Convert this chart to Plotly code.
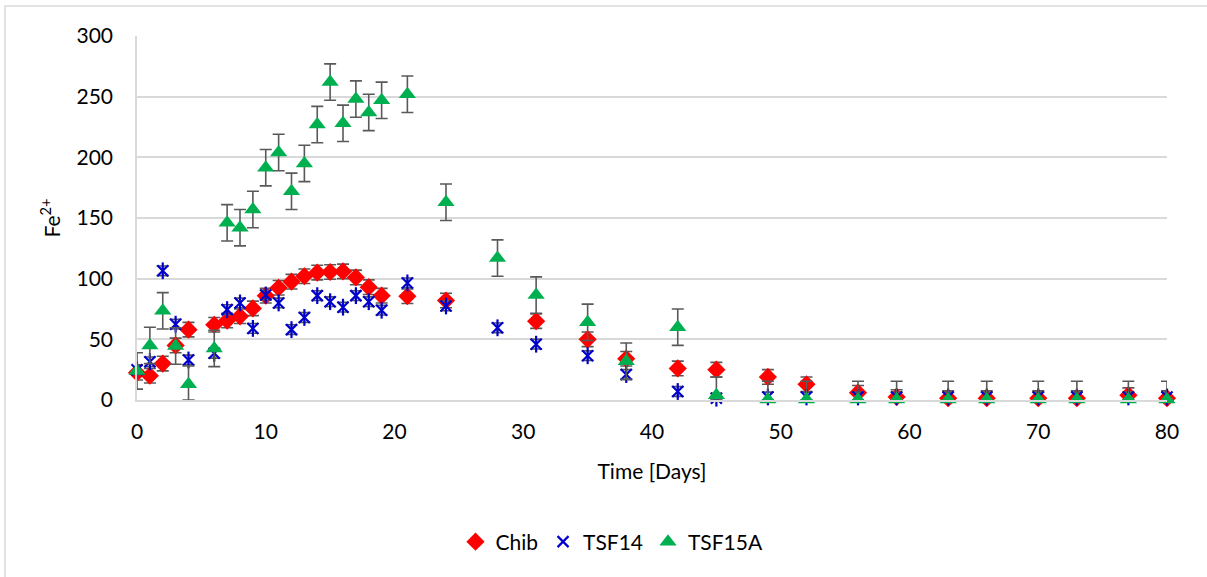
import plotly.graph_objects as go
import numpy as np

# ---- data ----
chib_days = [0, 1, 2, 3, 4, 6, 7, 8, 9, 10, 11, 12, 13, 14, 15, 16, 17, 18, 19, 21,
             24, 31, 35, 38, 42, 45, 49, 52, 56, 59, 63, 66, 70, 73, 77, 80]
chib_vals = [22.5, 20, 30, 45, 58, 62, 65.5, 69, 75.5, 86, 92.5, 97.5, 102, 105, 105.5, 106, 101, 93, 86, 85.5,
             82, 65, 50, 34, 26, 25, 19, 13, 6, 2.5, 1.5, 1.5, 1.5, 1.5, 4, 1.5]
chib_err = [6] * len(chib_days)

tsf14_days = [0, 1, 2, 3, 4, 6, 7, 8, 9, 10, 11, 12, 13, 14, 15, 16, 17, 18, 19, 21,
              24, 28, 31, 35, 38, 42, 45, 49, 52, 56, 59, 63, 66, 70, 73, 77, 80]
tsf14_vals = [25, 31.5, 106.5, 62.5, 33, 38.5, 74.5, 80, 59, 86.5, 80, 58, 68, 86, 81, 76.5, 86, 81, 74, 96.5,
              77.5, 59.5, 46, 36.5, 21, 7, 1.5, 2.5, 2.5, 2.5, 2.5, 2.5, 2.5, 2.5, 2.5, 2.5, 2.5]
tsf14_err = [4] * len(tsf14_days)

tsf15_days = [0, 1, 2, 3, 4, 6, 7, 8, 9, 10, 11, 12, 13, 14, 15, 16, 17, 18, 19, 21,
              24, 28, 31, 35, 38, 42, 45, 49, 52, 56, 59, 63, 66, 70, 73, 77, 80]
tsf15_vals = [24, 45, 73.5, 44.5, 13, 42.5, 146, 142, 157, 191.5, 204, 172, 195, 227, 262, 228, 248, 237, 247, 252,
              163, 117, 86.5, 64, 32, 60, 4, 0.5, 0.5, 0.5, 0.5, 0.5, 0.5, 0.5, 0.5, 0.5, 0.5]
tsf15_err = [15] * len(tsf15_days)

series_names = ["Chib", "TSF14", "TSF15A"]

FONT = "Lato"
ERR_COLOR = "#595959"


def err(vals, e):
    e = np.array(e, dtype=float)
    v = np.array(vals, dtype=float)
    return dict(type="data", symmetric=False, array=e, arrayminus=np.minimum(e, v),
                color=ERR_COLOR, thickness=1.6, width=6)


fig = go.Figure()

fig.add_trace(go.Scatter(
    x=chib_days, y=chib_vals, mode="markers", name=series_names[0],
    marker=dict(symbol="diamond", size=14, color="#FF0000"),
    error_y=err(chib_vals, chib_err), cliponaxis=False))

fig.add_trace(go.Scatter(
    x=tsf14_days, y=tsf14_vals, mode="markers", name=series_names[1], legendgroup="tsf14",
    marker=dict(symbol="x-thin-open", size=11, color="#0000CC", line=dict(width=2.2, color="#0000CC")),
    error_y=err(tsf14_vals, tsf14_err), cliponaxis=False))
fig.add_trace(go.Scatter(
    x=tsf14_days, y=tsf14_vals, mode="markers", name=series_names[1], legendgroup="tsf14",
    showlegend=False, hoverinfo="skip",
    marker=dict(symbol="line-ns-open", size=12, color="#0000CC", line=dict(width=2.2, color="#0000CC")),
    cliponaxis=False))

fig.add_trace(go.Scatter(
    x=tsf15_days, y=tsf15_vals, mode="markers", name=series_names[2],
    marker=dict(symbol="triangle-up", size=15, color="#00B050"),
    error_y=err(tsf15_vals, tsf15_err), cliponaxis=False))

# plot area in px: left 137, right 1167, top 36, bottom 400
W, H = 1207, 577
L, R, T, B = 137, 1167, 36, 400
pw, ph = R - L, B - T


def px(xp):
    return (xp - L) / pw


def py(yp):
    return (B - yp) / ph


fig.update_layout(
    width=W, height=H,
    margin=dict(l=L, r=W - R, t=T, b=H - B, autoexpand=False),
    paper_bgcolor="white", plot_bgcolor="white",
    font=dict(family=FONT, size=21, color="#000000"),
    showlegend=True,
    legend=dict(orientation="h", x=px(612), y=py(542), xanchor="center", yanchor="middle",
                font=dict(family=FONT, size=21), itemwidth=30, tracegroupgap=0,
                bgcolor="rgba(0,0,0,0)"),
    xaxis=dict(range=[0, 80], dtick=10, tick0=0, showgrid=False, zeroline=False,
               showline=True, linecolor="#d9d9d9", linewidth=1.5, ticks="",
               ticklabelstandoff=12,
               tickfont=dict(family=FONT, size=21),
               title=dict(text="Time [Days]", font=dict(family=FONT, size=21), standoff=22)),
    yaxis=dict(range=[0, 300], dtick=50, tick0=0, showgrid=True, gridcolor="#d9d9d9", gridwidth=1.5,
               zeroline=False, showline=True, linecolor="#d9d9d9", linewidth=1.5, ticks="",
               ticklabelstandoff=18,
               tickfont=dict(family=FONT, size=21),
               title=dict(text="Fe<sup>2+</sup>", font=dict(family=FONT, size=21), standoff=10)),
    shapes=[dict(type="rect", xref="paper", yref="paper",
                 x0=px(5), x1=px(1230), y0=py(600), y1=py(6),
                 line=dict(color="#d9d9d9", width=1.5), fillcolor="rgba(0,0,0,0)", layer="below")],
)

fig.write_html("out.html", config={"displayModeBar": False},
               post_script="document.body.style.margin='0';document.body.style.overflow='hidden';")
